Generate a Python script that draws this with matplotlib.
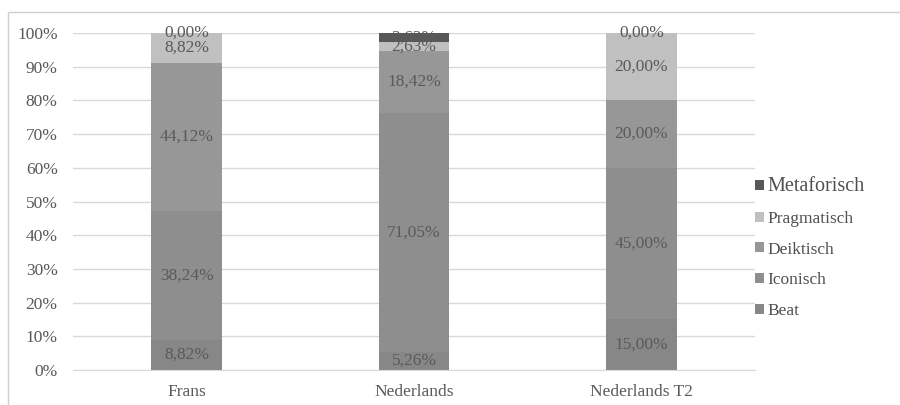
import matplotlib
matplotlib.use("Agg")
import matplotlib.pyplot as plt
from matplotlib.patches import Patch, Rectangle
import numpy as np

categories = ["Frans", "Nederlands", "Nederlands T2"]
series_names = ["Beat", "Iconisch", "Deiktisch", "Pragmatisch", "Metaforisch"]
beat = [8.82, 5.26, 15.00]
iconisch = [38.24, 71.05, 45.00]
deiktisch = [44.12, 18.42, 20.00]
pragmatisch = [8.82, 2.63, 20.00]
metaforisch = [0.00, 2.63, 0.00]
yticks = [0, 10, 20, 30, 40, 50, 60, 70, 80, 90, 100]

colors = ["#878787", "#8e8e8e", "#979797", "#c0c0c0", "#585858"]
series = [beat, iconisch, deiktisch, pragmatisch, metaforisch]

plt.rcParams['font.family'] = ['Liberation Serif', 'DejaVu Serif']
txtc = "#595959"

fig = plt.figure(figsize=(9, 4.05), dpi=100)
ax = fig.add_axes([73/900, 35/405, 682/900, 337/405])

x = np.arange(len(categories))
bottom = np.zeros(len(categories))
for name, vals, c in zip(series_names, series, colors):
    vals = np.array(vals)
    ax.bar(x, vals, 0.31, bottom=bottom, color=c, zorder=2, label=name)
    for xi, b, v in zip(x, bottom, vals):
        ax.text(xi, b + v / 2, f"{v:.2f}%".replace(".", ","), ha="center", va="center",
                fontsize=12.5, color="#5a5a5a", zorder=3)
    bottom += vals

ax.set_xlim(-0.5, 2.5)
ax.set_ylim(0, 100)
ax.set_yticks(yticks)
ax.set_yticklabels([f"{t}%" for t in yticks])
ax.set_xticks(x)
ax.set_xticklabels(categories)
ax.tick_params(length=0, labelsize=12.5, colors=txtc)
ax.tick_params(axis='y', pad=11)
ax.tick_params(axis='x', pad=10)
ax.grid(axis='y', color="#d9d9d9", linewidth=1, zorder=0)
for s in ["top", "right", "left"]:
    ax.spines[s].set_visible(False)
ax.spines["bottom"].set_color("#d9d9d9")

handles = [Patch(facecolor=c, edgecolor='none') for c in colors][::-1]
labels = series_names[::-1]
leg = fig.legend(handles, labels, loc="center left", bbox_to_anchor=(755/900, 157/405),
                 frameon=False, fontsize=12.5, handlelength=0.5, handleheight=0.5,
                 handletextpad=0.2, labelspacing=0.85, borderpad=0, borderaxespad=0)
for t in leg.get_texts():
    t.set_color("#505050")
leg.get_texts()[0].set_fontsize(14.5)

fig.add_artist(Rectangle((8/900, -0.05), 1.1, (405 - 12)/405 + 0.05, transform=fig.transFigure,
                         fill=False, edgecolor="#d0d0d0", linewidth=1))

fig.savefig("out.png", dpi=100)
